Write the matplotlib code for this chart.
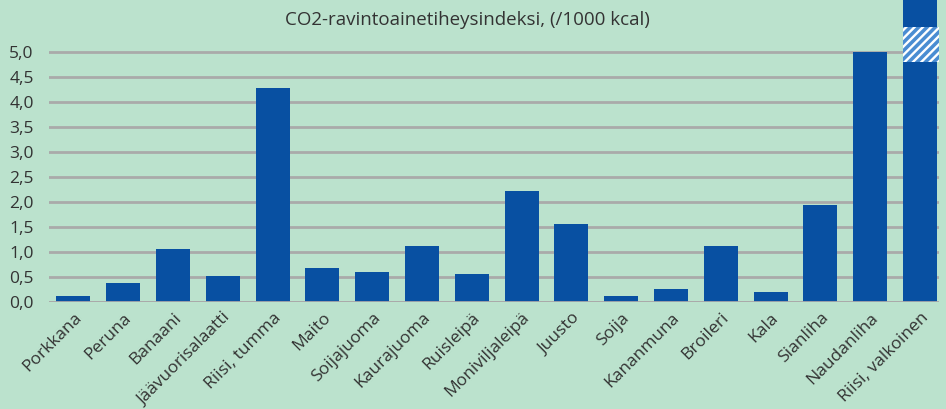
import matplotlib
matplotlib.use("Agg")
import matplotlib.pyplot as plt
from matplotlib.ticker import FuncFormatter

categories = ["Porkkana", "Peruna", "Banaani", "Jäävuorisalaatti", "Riisi, tumma",
              "Maito", "Soijajuoma", "Kaurajuoma", "Ruisleipä", "Moniviljaleipä",
              "Juusto", "Soija", "Kananmuna", "Broileri", "Kala", "Sianliha",
              "Naudanliha", "Riisi, valkoinen"]
values = [0.11, 0.38, 1.05, 0.51, 4.28, 0.68, 0.59, 1.11, 0.56, 2.21,
          1.55, 0.11, 0.25, 1.11, 0.19, 1.93, 5.00, 6.10]
break_low, break_high = 4.79, 5.49
yticks = [0.0, 0.5, 1.0, 1.5, 2.0, 2.5, 3.0, 3.5, 4.0, 4.5, 5.0]
title = "CO2-ravintoainetiheysindeksi, (/1000 kcal)"

BG = "#bbe2cd"
BAR = "#0850a2"
HATCH_FACE = "#4a8dd2"
TEXT = "#333333"
GRID = "#aaaaaa"

plt.rcParams["font.family"] = ["Open Sans", "DejaVu Sans"]
plt.rcParams["hatch.linewidth"] = 1.7
plt.rcParams["hatch.color"] = "white"

W, H = 946, 409
fig = plt.figure(figsize=(W / 100, H / 100), dpi=100, facecolor=BG)
ax = fig.add_axes([49 / W, (H - 301.5) / H, (938.7 - 49) / W, 301.5 / H])
ax.set_facecolor(BG)

x = list(range(len(categories)))
ax.bar(x, values, width=0.68, color=BAR, zorder=3)
# break marker on the last bar
ax.bar([x[-1] + 0.02], [break_high - break_low], bottom=[break_low], width=0.72,
       color=HATCH_FACE, edgecolor="white", hatch="////", linewidth=0, zorder=4)

ax.set_xlim(-0.49, 17.375)
ax.set_ylim(0, 301.5 / 49.96)
ax.set_yticks(yticks)
ax.yaxis.set_major_formatter(FuncFormatter(lambda v, p: f"{v:.1f}".replace(".", ",")))
ax.grid(axis="y", color=GRID, linewidth=2, zorder=1)
ax.axhline(0, color=GRID, linewidth=2, zorder=5)
ax.set_axisbelow(True)
for s in ax.spines.values():
    s.set_visible(False)
ax.tick_params(axis="y", length=0, pad=11, labelsize=12.5, labelcolor=TEXT)
ax.tick_params(axis="x", length=0, pad=6, labelsize=12.5, labelcolor=TEXT)
ax.set_xticks(x)
ax.set_xticklabels(categories, rotation=45, ha="right", va="top", rotation_mode="anchor")

fig.text(467.5 / W, 1 - 20 / H, title, ha="center", va="center", fontsize=13.5, color=TEXT)

fig.savefig("out.png", dpi=100, facecolor=BG)
